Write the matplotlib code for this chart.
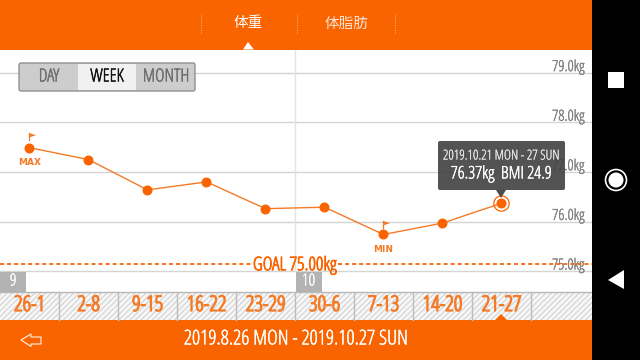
#!/usr/bin/env python3
"""
Weekly body weight screen from a phone app
"""
import matplotlib
matplotlib.use('Agg')
import matplotlib.pyplot as plt
import matplotlib.patheffects as pe
from matplotlib.patches import Rectangle, FancyBboxPatch, Polygon, Circle

# the data
weeks = ['26-1', '2-8', '9-15', '16-22', '23-29', '30-6', '7-13', '14-20', '21-27']
weights = [77.49, 77.25, 76.64, 76.80, 76.26, 76.29, 75.74, 75.97, 76.37]
y_ticks = [79.0, 78.0, 77.0, 76.0, 75.0]
goal_drawn = 75.14  # where the app draws the goal line
modes = ['DAY', 'WEEK', 'MONTH']
tabs = ['体重', '体脂肪']
months = ['9', '10']

ORANGE = '#fa6400'
LINE = '#f57a26'
GRID = '#d4d4d4'
CJK = ['Noto Sans CJK JP', 'DejaVu Sans']


def narrow(ax, x, y, s, size, color, stroke=0.35, zorder=4):
    """ condensed label, thickened a bit since the font has no condensed bold """
    return ax.text(x, y, s, ha='center', va='center', fontsize=size, color=color, family='Open Sans',
                   stretch='condensed', zorder=zorder,
                   path_effects=[pe.withStroke(linewidth=stroke, foreground=color)])


fig = plt.figure(figsize=(6.4, 3.6), dpi=100)

# chart area, 0-592 px wide, 50-292 px down
ax = fig.add_axes([0, (360 - 292) / 360, 592 / 640, 242 / 360])
ax.set_xlim(-0.5, 9.534)
ax.set_ylim(74.58, 79.46)
ax.axis('off')
for t in y_ticks:
    ax.axhline(t, color=GRID, lw=1, zorder=1)
    ax.annotate('%.1fkg' % t, (9.534, t), xytext=(-5.5, 1.2), textcoords='offset points',
                ha='right', va='baseline', fontsize=11, color='#808080', family='Open Sans',
                stretch='condensed', zorder=2,
                path_effects=[pe.withStroke(linewidth=0.25, foreground='#808080')])
ax.plot([4.5, 4.5], [75.0, 79.46], color='#e2e2e2', lw=1, zorder=1)
ax.plot(range(len(weights)), weights, color=LINE, lw=1, marker='o', ms=6.2,
        mfc=ORANGE, mec=ORANGE, zorder=4)
ax.plot([-0.5, 3.77], [goal_drawn] * 2, color=ORANGE, lw=1.3, ls=(0, (2.2, 1.7)), zorder=3)
ax.plot([5.23, 9.534], [goal_drawn] * 2, color=ORANGE, lw=1.3, ls=(0, (2.2, 1.7)), zorder=3)
narrow(ax, 4.5, goal_drawn - 0.02, 'GOAL 75.00kg', 13.5, ORANGE, stroke=0.6)

# selected point ring and max/min flags
ax.plot([8], [weights[8]], 'o', ms=11, mfc='none', mec=ORANGE, mew=0.9, zorder=5)
imax = weights.index(max(weights))
imin = weights.index(min(weights))
ax.annotate('MAX', (imax, weights[imax]), xytext=(0, -10.5), textcoords='offset points',
            ha='center', va='center', fontsize=6.5, color=LINE, weight='bold', zorder=5)
ax.annotate('MIN', (imin, weights[imin]), xytext=(0, -10.5), textcoords='offset points',
            ha='center', va='center', fontsize=6.5, color=LINE, weight='bold', zorder=5)

# chrome in pixel coordinates on top of the chart
ui = fig.add_axes([0, 0, 1, 1], facecolor='none')
ui.set_xlim(0, 640)
ui.set_ylim(360, 0)
ui.axis('off')

# flags
for fx, fy in [(29, 133), (383, 221)]:
    ui.plot([fx, fx], [fy, fy + 7], color=LINE, lw=0.9)
    ui.add_patch(Polygon([(fx, fy), (fx + 7, fy + 2.2), (fx, fy + 4.5)], color=LINE, lw=0))

# bars
ui.add_patch(Rectangle((0, 0), 592, 49.5, color=ORANGE, lw=0))
ui.add_patch(Polygon([(243, 49.5), (248, 42), (254, 49.5)], color='white', lw=0))
ui.add_patch(Rectangle((0, 320), 592, 40, color=ORANGE, lw=0))
ui.add_patch(Rectangle((592, 0), 48, 360, color='black', lw=0, zorder=6))

# top tabs
for tx, name, col in [(248.5, tabs[0], 'white'), (346.5, tabs[1], '#fde3d2')]:
    ui.text(tx, 23.5, name, ha='center', va='center', fontsize=10.5, color=col, family=CJK)
for sx in [200.5, 296.5, 395]:
    ui.plot([sx, sx], [15, 34], color='#fdb98c', lw=0.7, ls=(0, (1, 1.5)))

# segment control
ui.add_patch(FancyBboxPatch((19, 63), 176, 28, boxstyle='round,pad=0,rounding_size=2',
                            fc='#cbcbcb', ec='#8c8c8c', lw=1, alpha=0.95, zorder=3))
ui.add_patch(Rectangle((78, 64), 58, 26, color='#f1f1f1', lw=0, zorder=3))
for tx, name, col in [(49, modes[0], '#6e6e6e'), (107, modes[1], '#111111'), (166, modes[2], '#6e6e6e')]:
    narrow(ui, tx, 76.5, name, 13, col)

# month row and hatched week row
ui.plot([0, 592], [291.5, 291.5], color='#b8b8b8', lw=1)
for mx, name in zip([0, 295.5], months):
    ui.add_patch(Rectangle((mx, 272), 26, 19.5, color='#b3b3b3', lw=0))
    narrow(ui, mx + 13, 281.5, name, 12, 'white', stroke=0.2)
plt.rcParams['hatch.color'] = '#c9c9c9'
plt.rcParams['hatch.linewidth'] = 0.6
ui.add_patch(Rectangle((0, 292), 592, 28, fc='#f6f6f6', ec='#c9c9c9', hatch='//////', lw=0))
for i, name in enumerate(weeks):
    narrow(ui, 29.5 + 59 * i, 305.5, name, 15.5, LINE, stroke=0.9)
    ui.plot([59 * (i + 1)] * 2, [292, 320], color='#bdbdbd', lw=1)
ui.add_patch(Polygon([(495, 320), (501, 314), (507, 320)], color=ORANGE, lw=0))

# bottom bar
narrow(ui, 296, 339.5, '2019.8.26 MON - 2019.10.27 SUN', 14.7, 'white', stroke=0.3)
ui.add_patch(Polygon([(21, 340), (31, 334), (31, 337), (41, 337), (41, 344), (31, 344), (31, 346.5)],
                     fc='none', ec='#ffe3cf', lw=0.9))

# tooltip, the grid shows through it a little
ui.add_patch(FancyBboxPatch((438, 141), 127, 49, boxstyle='round,pad=0,rounding_size=2',
                            fc='#444444', ec='none', alpha=0.92, zorder=7))
ui.add_patch(Polygon([(496, 190), (506, 190), (501, 198)], color='#4d4d4d', lw=0, zorder=7))
narrow(ui, 501.5, 156, '2019.10.21 MON - 27 SUN', 9.8, '#e8e8e8', stroke=0.15, zorder=8)
narrow(ui, 501.5, 174.5, '76.37kg  BMI 24.9', 12.5, 'white', stroke=0.3, zorder=8)

# phone nav buttons
ui.add_patch(Rectangle((608, 72), 16, 16, color='white', lw=0, zorder=7))
ui.add_patch(Circle((616, 180), 10.5, fc='none', ec='white', lw=1.2, zorder=7))
ui.add_patch(Circle((616, 180), 7.5, fc='white', ec='none', zorder=7))
ui.add_patch(Polygon([(608, 280), (624, 270), (624, 289)], color='white', lw=0, zorder=7))

fig.savefig('out.png', dpi=100)
